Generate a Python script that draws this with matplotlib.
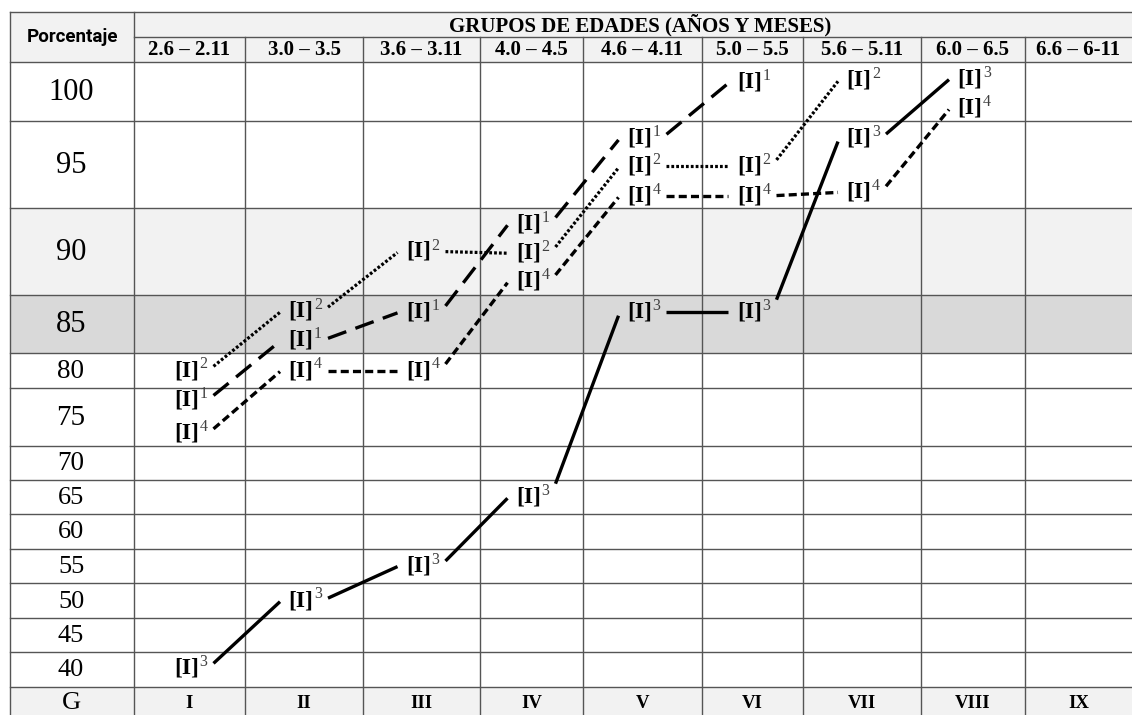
import numpy as np
import matplotlib
matplotlib.use("Agg")
import matplotlib.pyplot as plt

plt.rcParams['lines.scale_dashes'] = False

# Table content
grupos = ['I', 'II', 'III', 'IV', 'V', 'VI', 'VII', 'VIII', 'IX']
edades = ['2.6 – 2.11', '3.0 – 3.5', '3.6 – 3.11', '4.0 – 4.5', '4.6 – 4.11',
          '5.0 – 5.5', '5.6 – 5.11', '6.0 – 6.5', '6.6 – 6-11']
porcentajes = [100, 95, 90, 85, 80, 75, 70, 65, 60, 55, 50, 45, 40]

# Series: group number and percentage position of each [I]^n label
s1_grupo = [1, 2, 3, 4, 5, 6]
s1_pct = [76.5, 83.6, 86.0, 91.6, 96.5, 100.8]
s2_grupo = [1, 2, 3, 4, 5, 6, 7]
s2_pct = [80.0, 86.1, 90.0, 89.9, 94.9, 94.9, 101.0]
s3_grupo = [1, 2, 3, 4, 5, 6, 7, 8]
s3_pct = [40.2, 50.0, 55.0, 65.0, 86.0, 86.0, 96.5, 101.1]
s4_grupo = [1, 2, 3, 4, 5, 6, 7, 8]
s4_pct = [73.6, 80.0, 80.0, 88.3, 93.2, 93.2, 93.4, 98.6]

W, H = 1132, 715
col_edges = np.array([10, 134, 245, 363, 480, 583, 702, 803, 921, 1025, 1132])
row_edges = np.array([62, 121, 208, 295, 353, 388, 446, 480, 514, 549, 583, 618, 652, 687])
head_top, head_mid, g_bottom = 12, 37, 715

SERIF = 'Liberation Serif'
LINE = '#555555'

fig = plt.figure(figsize=(W / 100, H / 100), dpi=100)
ax = fig.add_axes([0, 0, 1, 1])
ax.set_xlim(0, W)
ax.set_ylim(H, 0)
ax.axis('off')

# backgrounds
ax.fill_between([col_edges[0], W], head_top, row_edges[0], color='#f2f2f2', lw=0)
ax.fill_between([col_edges[0], W], row_edges[2], row_edges[3], color='#f2f2f2', lw=0)
ax.fill_between([col_edges[0], W], row_edges[3], row_edges[4], color='#d9d9d9', lw=0)
ax.fill_between([col_edges[0], W], row_edges[-1], g_bottom, color='#f2f2f2', lw=0)

# grid
for y in [head_top] + list(row_edges):
    ax.plot([col_edges[0], W], [y, y], color=LINE, lw=1.0)
ax.plot([col_edges[1], W], [head_mid, head_mid], color=LINE, lw=1.0)
ax.plot([col_edges[0]] * 2, [head_top, g_bottom], color=LINE, lw=1.0)
ax.plot([col_edges[1]] * 2, [head_top, g_bottom], color=LINE, lw=1.0)
for x in col_edges[2:-1]:
    ax.plot([x, x], [head_mid, g_bottom], color=LINE, lw=1.0)

# header texts
ax.text((col_edges[0] + col_edges[1]) / 2, 37, 'Porcentaje', ha='center', va='center',
        fontsize=13.5, fontweight='bold', family='Roboto')
ax.text(640, 25, 'GRUPOS DE EDADES (AÑOS Y MESES)', ha='center',
        va='center', fontsize=15, fontweight='bold', family=SERIF)
centers = (col_edges[1:-1] + col_edges[2:]) / 2
for cx, lab in zip(centers, edades):
    ax.text(cx, 50, lab, ha='center', va='center', fontsize=15, fontweight='bold', family=SERIF)
row_fs = [22, 22, 22, 22, 19.5, 21, 19.5, 19, 19, 19, 19, 19, 19]
for i, p in enumerate(porcentajes):
    cy = (row_edges[i] + row_edges[i + 1]) / 2
    ax.text(71, cy + 1, str(p), ha='center', va='center', fontsize=row_fs[i], family=SERIF)
ax.text(71, 703, 'G', ha='center', va='center', fontsize=19, family=SERIF)
for cx, g in zip(centers, grupos):
    ax.text(cx, 704, g, ha='center', va='center', fontsize=13.5, fontweight='bold', family=SERIF)


# overlay axes whose scales follow the table's uneven columns and rows
def interp_ext(x, xp, fp):
    x = np.asarray(x, dtype=float)
    y = np.interp(x, xp, fp)
    lo = x < xp[0]
    hi = x > xp[-1]
    y = np.where(lo, fp[0] + (x - xp[0]) * (fp[1] - fp[0]) / (xp[1] - xp[0]), y)
    y = np.where(hi, fp[-1] + (x - xp[-1]) * (fp[-1] - fp[-2]) / (xp[-1] - xp[-2]), y)
    return y


g_edges = np.arange(0.5, 10.0, 1.0)
px_cols = col_edges[1:].astype(float)
v_edges = np.arange(37.5, 103, 5.0)
px_rows = -row_edges[::-1].astype(float)

ax2 = fig.add_axes([col_edges[1] / W, (H - row_edges[-1]) / H,
                    (W - col_edges[1]) / W, (row_edges[-1] - row_edges[0]) / H])
ax2.set_xscale('function', functions=(lambda x: interp_ext(x, g_edges, px_cols),
                                      lambda p: interp_ext(p, px_cols, g_edges)))
ax2.set_yscale('function', functions=(lambda v: interp_ext(v, v_edges, px_rows),
                                      lambda p: interp_ext(p, px_rows, v_edges)))
ax2.set_xlim(0.5, 9.5)
ax2.set_ylim(37.5, 102.5)
ax2.set_axis_off()
ax2.patch.set_alpha(0)

estilos = [
    (s1_grupo, s1_pct, '1', dict(dashes=(14, 7), lw=2.4)),
    (s2_grupo, s2_pct, '2', dict(dashes=(2.0, 1.5), lw=2.3)),
    (s3_grupo, s3_pct, '3', dict(ls='-', lw=2.4)),
    (s4_grupo, s4_pct, '4', dict(dashes=(5.8, 3.0), lw=2.4)),
]

for gs, ps, sup, kw in estilos:
    pts = ax2.transData.transform(np.column_stack([gs, ps]))
    for (ax_, ay_), (bx_, by_) in zip(pts[:-1], pts[1:]):
        slope = abs(by_ - ay_) / abs(bx_ - ax_)
        s = np.sign(by_ - ay_)
        start = (ax_ + 24, ay_ + s * min(8 * slope, 14))
        end = (bx_ - 24, by_ - s * 2 * slope)
        seg = ax2.transData.inverted().transform([start, end])
        ax2.plot(seg[:, 0], seg[:, 1], color='black', solid_capstyle='butt',
                 dash_capstyle='butt', **kw)
    for g, p in zip(gs, ps):
        ax2.annotate('[I]', xy=(g, p), xytext=(-3, 0), textcoords='offset pixels',
                     ha='center', va='center', fontsize=17, fontweight='bold', family=SERIF)
        ax2.annotate(sup, xy=(g, p), xytext=(10, 6), textcoords='offset pixels',
                     ha='left', va='center', fontsize=11.5, color='#404040', family=SERIF)

fig.savefig('out.png', dpi=100)
